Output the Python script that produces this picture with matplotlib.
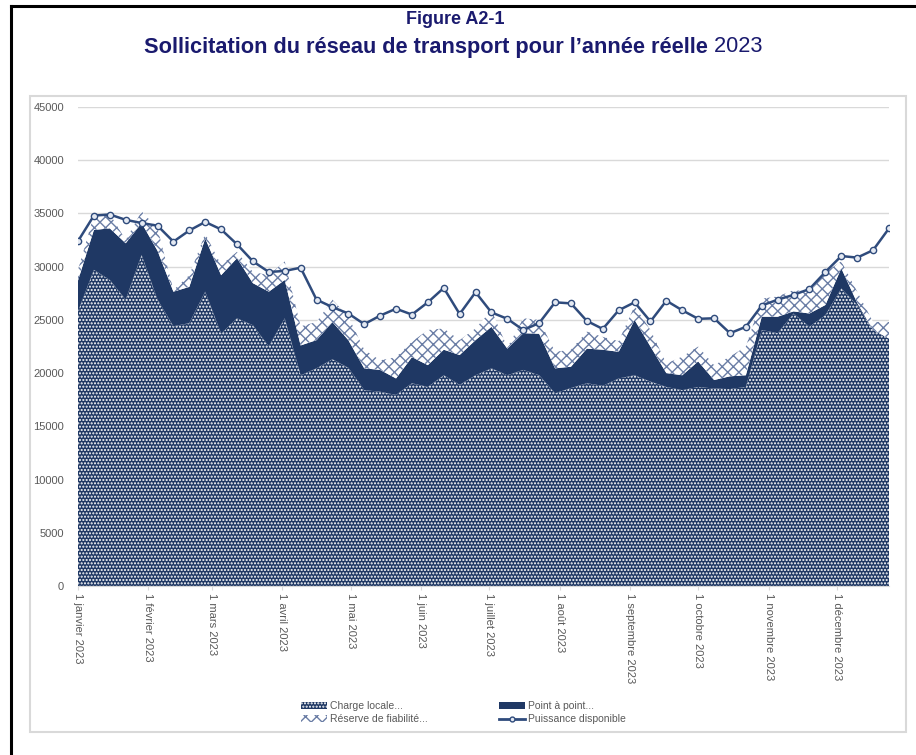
import matplotlib
matplotlib.use("Agg")
import pandas as pd
from matplotlib import pyplot as plt
from matplotlib.lines import Line2D
from matplotlib.patches import Patch, Rectangle

# semaines de 2023 (MW)
semaines = pd.date_range("2023-01-01", periods=52, freq="7D")

charge_locale = [25800, 29700, 28750, 26900, 31100, 26900, 24400, 24700, 27650, 23700,
                 25150, 24500, 22500, 25150, 19800, 20450, 21300, 20500, 18400, 18250,
                 17950, 19050, 18700, 19800, 18900, 19800, 20450, 19800, 20300, 19800,
                 18100, 18600, 19050, 18800, 19500, 19800, 19200, 18700, 18400, 18700,
                 18550, 18500, 18700, 24050, 23750, 25600, 24350, 25450, 27950, 26400,
                 24050, 23250]
point_a_point = [2900, 3750, 4850, 5300, 3000, 4600, 3250, 3400, 5000, 5500,
                 5650, 3950, 5150, 3600, 2800, 2650, 3500, 2600, 2050, 2050,
                 1550, 2450, 2050, 2400, 2800, 3300, 3900, 2500, 3450, 3900,
                 2350, 2000, 3250, 3400, 2500, 5200, 3300, 1300, 1400, 2400,
                 800, 1200, 1100, 1250, 1550, 200, 1250, 950, 1900, 200,
                 0, 0]
reserve = [1000, 1400, 1350, 300, 1100, 2100, 150, 1100, 450, 950,
           600, 1050, 1550, 1750, 1800, 1700, 2100, 2200, 1750, 900,
           2000, 1450, 3300, 2000, 1400, 1100, 1550, 100, 1400, 1300,
           1550, 1600, 1600, 1200, 1000, 1300, 1550, 900, 1750, 1400,
           1400, 1850, 2700, 1700, 1900, 2000, 2050, 3100, 650, 1050,
           750, 1550]
puissance_dispo = [32400, 34800, 34900, 34400, 34100, 33850, 32350, 33400, 34200, 33500,
                   32100, 30500, 29500, 29600, 29900, 26900, 26200, 25600, 24600, 25400,
                   26050, 25500, 26650, 28000, 25550, 27600, 25700, 25100, 24050, 24700,
                   26650, 26550, 24900, 24150, 25900, 26650, 24850, 26800, 25900, 25100,
                   25150, 23750, 24350, 26350, 26900, 27350, 27900, 29500, 31000, 30850,
                   31550, 33600]

mois = pd.date_range("2023-01-01", periods=12, freq="MS")
mois_labels = ["1 janvier 2023", "1 février 2023", "1 mars 2023", "1 avril 2023",
               "1 mai 2023", "1 juin 2023", "1 juillet 2023", "1 août 2023",
               "1 septembre 2023", "1 octobre 2023", "1 novembre 2023", "1 décembre 2023"]

navy = "#1f3864"
hatch_x = "#6a7da5"
gris = "#595959"

plt.rcParams["font.family"] = ["Liberation Sans", "DejaVu Sans"]

fig = plt.figure(figsize=(9.16, 7.55), dpi=100)
ax = fig.add_axes([78 / 916, 1 - 586 / 755, (889 - 78) / 916, (586 - 107) / 755])

polys = ax.stackplot(semaines, charge_locale, point_a_point, reserve,
                     colors=[navy, navy, "white"], zorder=2)
polys[0].set_hatch(".....")
polys[0].set_edgecolor("white")
polys[0].set_linewidth(0)
polys[1].set_linewidth(0)
polys[2].set_hatch("xxx")
polys[2].set_edgecolor(hatch_x)
polys[2].set_linewidth(0)

ax.plot(semaines, puissance_dispo, color="#2f4b7c", lw=1.8, marker="o", ms=4.5,
        mfc="#e4e9f2", mec="#2f4b7c", mew=1, zorder=3)

ax.set_ylim(0, 45000)
ax.set_yticks(range(0, 45001, 5000))
ax.set_xlim(semaines[0], semaines[-1])
ax.set_xticks(mois)
ax.set_xticklabels(mois_labels)
ax.tick_params(axis="x", labelrotation=270, labelsize=8, labelcolor=gris,
               length=3, color="#d9d9d9", pad=2)
ax.tick_params(axis="y", labelsize=8, labelcolor=gris, length=0, pad=10)
ax.grid(axis="y", color="#d9d9d9", lw=1, zorder=0)
ax.set_axisbelow(True)
for s in ["top", "right", "left"]:
    ax.spines[s].set_visible(False)
ax.spines["bottom"].set_color("#d9d9d9")

# legende
handles = [
    Patch(facecolor=navy, edgecolor="white", hatch=".....", lw=0, label="Charge locale..."),
    Patch(facecolor="white", edgecolor=hatch_x, hatch="xxx", lw=0, label="Réserve de fiabilité..."),
    Patch(facecolor=navy, lw=0, label="Point à point..."),
    Line2D([], [], color="#2f4b7c", lw=2, marker="o", ms=3.5, mfc="#e4e9f2",
           label="Puissance disponible"),
]
leg = fig.legend(handles=handles, loc="center", bbox_to_anchor=(0.506, 0.0563), ncol=2,
                 frameon=False, fontsize=7.5, handlelength=2.5, handleheight=0.6,
                 columnspacing=6.8, labelspacing=0.3, handletextpad=0.3)
for t in leg.get_texts():
    t.set_color(gris)

# cadres
fig.add_artist(Rectangle((30 / 916, 1 - 732 / 755), 876 / 916, 636 / 755,
                         transform=fig.transFigure, fill=False, ec="#d9d9d9", lw=1.5))
fig.add_artist(Line2D([11 / 916, 1], [1 - 6 / 755, 1 - 6 / 755],
                      transform=fig.transFigure, color="black", lw=2.2))
fig.add_artist(Line2D([11 / 916, 11 / 916], [0, 1 - 6 / 755],
                      transform=fig.transFigure, color="black", lw=2.2))

# titres
titre_col = "#1a1a6e"
fig.text(0.497, 1 - 19 / 755, "Figure A2-1", ha="center", va="center",
         fontsize=13, fontweight="bold", color=titre_col)
t1 = fig.text(0, 1 - 47 / 755, "Sollicitation du réseau de transport pour l’année réelle",
              ha="left", va="center", fontsize=15.7, fontweight="bold", color=titre_col)
t2 = fig.text(0, 1 - 47 / 755, " 2023", ha="left", va="center", fontsize=15.7,
              color=titre_col)
r = fig.canvas.get_renderer()
w1 = t1.get_window_extent(r).width / fig.bbox.width
w2 = t2.get_window_extent(r).width / fig.bbox.width
x0 = 0.495 - (w1 + w2) / 2
t1.set_x(x0)
t2.set_x(x0 + w1)

fig.savefig("out.png", dpi=100)
